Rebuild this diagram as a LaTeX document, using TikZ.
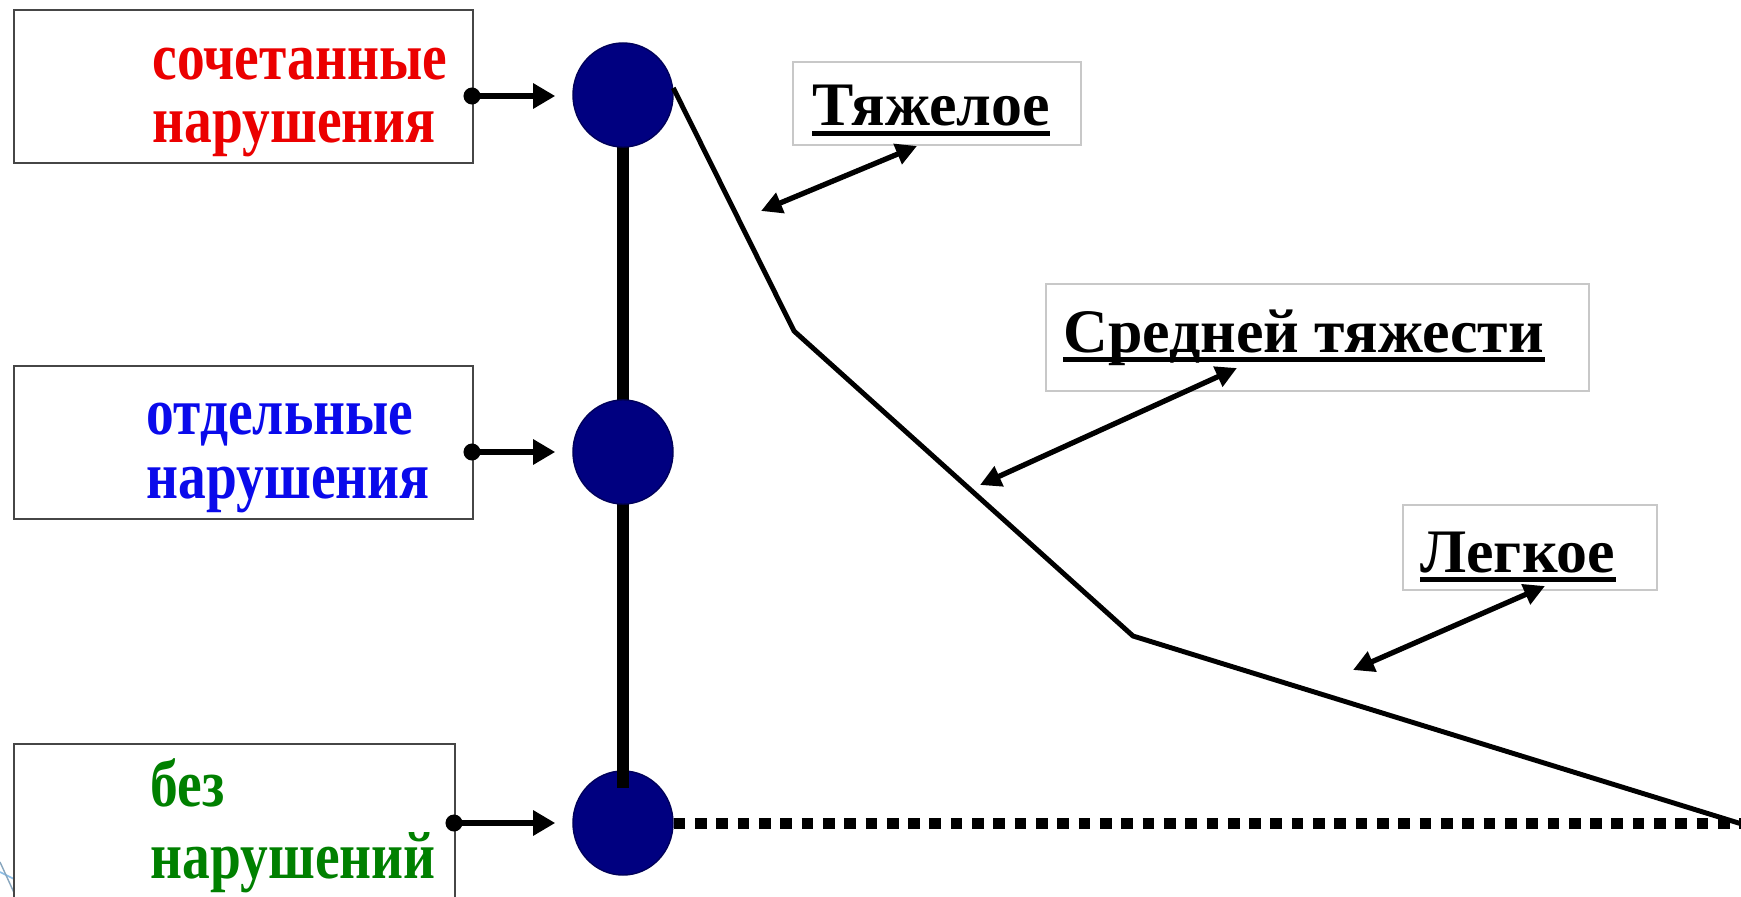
\documentclass[tikz,border=0pt]{standalone}
\usepackage{fontspec}
\setmainfont{Liberation Serif}
\newfontfamily\boxfont{Liberation Serif}[FakeStretch=0.83]
\usetikzlibrary{arrows.meta}
\definecolor{navyc}{RGB}{0,0,128}
\definecolor{redc}{RGB}{235,0,0}
\definecolor{bluec}{RGB}{10,10,235}
\definecolor{greenc}{RGB}{0,128,0}
\definecolor{edgegray}{RGB}{70,70,70}
\definecolor{lightedge}{RGB}{200,200,200}
\definecolor{cornerblue}{RGB}{140,190,230}
\tikzset{
  leftbox/.style={draw=edgegray, line width=0.6pt, fill=white, anchor=north west, inner sep=0pt},
  labelbox/.style={draw=lightedge, line width=0.45pt, fill=white, anchor=north west, inner sep=0pt},
  boxtext/.style={anchor=base west, inner sep=0pt, font=\boxfont\bfseries\fontsize{19}{21}\selectfont},
  labeltext/.style={anchor=base west, inner sep=0pt, font=\bfseries\fontsize{17.6}{20}\selectfont},
  ball/.style={ellipse, fill=navyc, draw=navyc!70!black, line width=0.4pt, minimum width=1.0cm, minimum height=1.04cm, inner sep=0pt},
  feed/.style={line width=1.8pt, -{Triangle[length=0.22cm,width=0.24cm]}, shorten >=0.17cm},
  feeddot/.style={fill=black},
  spine/.style={line width=3.2pt},
  curve/.style={line width=1.4pt, line join=miter},
  dotline/.style={line width=0.11cm, dash pattern=on 0.117cm off 0.096cm},
  pointer/.style={line width=1.5pt, {Triangle[length=0.21cm,width=0.21cm]}-{Triangle[length=0.21cm,width=0.21cm]}},
  uline/.style={line width=1.2pt}
}
\usetikzlibrary{shapes.geometric}
\begin{document}
\begin{tikzpicture}[x=0.01cm, y=-0.01cm]
\useasboundingbox (0,0) rectangle (1741,897);
\clip (0,0) rectangle (1741,897);
\fill[white] (0,0) rectangle (1741,897);

% corner decoration
\draw[cornerblue, line width=0.5pt] (0,872) -- (20,882);
\draw[cornerblue!60!gray, line width=0.4pt] (0,862) -- (16,897);

% left boxes
\node[leftbox, minimum width=4.59cm, minimum height=1.53cm] (b1) at (13,9) {};
\node[leftbox, minimum width=4.59cm, minimum height=1.53cm] (b2) at (13,365) {};
\node[leftbox, minimum width=4.41cm, minimum height=1.70cm] (b3) at (13,743) {};

\node[boxtext, text=redc] (t1a) at (152,79) {сочетанные};
\node[boxtext, text=redc] (t1b) at (152,142) {нарушения};
\node[boxtext, text=bluec] (t2a) at (146,434) {отдельные};
\node[boxtext, text=bluec] (t2b) at (146,498) {нарушения};
\node[boxtext, text=greenc] (t3a) at (150,806) {без};
\node[boxtext, text=greenc] (t3b) at (150,878) {нарушений};

% circles and spine
\node[ball] (c3) at (623,823) {};
\coordinate (spineend) at (623,788);
\draw[spine] (623,95) -- (spineend);
\node[ball] (c1) at (623,95) {};
\node[ball] (c2) at (623,452) {};

% feed arrows
\coordinate (f1) at (472,96);
\coordinate (f2) at (472,452);
\coordinate (f3) at (454,823);
\draw[feed] (f1) -- (f1 -| c1.west);
\draw[feed] (f2) -- (c2.west);
\draw[feed] (f3) -- (c3.west);
\fill[feeddot] (f1) circle (0.085cm);
\fill[feeddot] (f2) circle (0.085cm);
\fill[feeddot] (f3) circle (0.085cm);

% severity curve
\coordinate (p1) at (794,331);
\coordinate (p2) at (1133,636);
\coordinate (p3) at (1745,825);
\draw[curve] (c1.8) -- (p1) -- (p2) -- (p3);

% dotted baseline
\coordinate (dend) at (1745,823);
\draw[dotline] (c3.east) -- (dend);

% label boxes
\node[labelbox, minimum width=2.88cm, minimum height=0.83cm] (l1) at (792,61) {};
\node[labelbox, minimum width=5.43cm, minimum height=1.07cm] (l2) at (1045,283) {};
\node[labelbox, minimum width=2.54cm, minimum height=0.85cm] (l3) at (1402,504) {};

\node[labeltext] (s1) at (812,125) {Тяжелое};
\node[labeltext] (s2) at (1063,352) {Средней тяжести};
\node[labeltext] (s3) at (1420,572) {Легкое};

\draw[uline] ([yshift=-0.085cm]s1.base west) -- ([yshift=-0.085cm]s1.base east);
\draw[uline] ([yshift=-0.075cm]s2.base west) -- ([yshift=-0.075cm]s2.base east);
\draw[uline] ([yshift=-0.075cm]s3.base west) -- ([yshift=-0.075cm]s3.base east);

% pointers
\coordinate (a1s) at (761,211);
\coordinate (a1e) at (917,146);
\coordinate (a2s) at (980,485);
\coordinate (a2e) at (1237,368);
\coordinate (a3s) at (1353,670);
\coordinate (a3e) at (1545,586);
\draw[pointer] (a1s) -- (a1e);
\draw[pointer] (a2s) -- (a2e);
\draw[pointer] (a3s) -- (a3e);
\end{tikzpicture}
\end{document}
